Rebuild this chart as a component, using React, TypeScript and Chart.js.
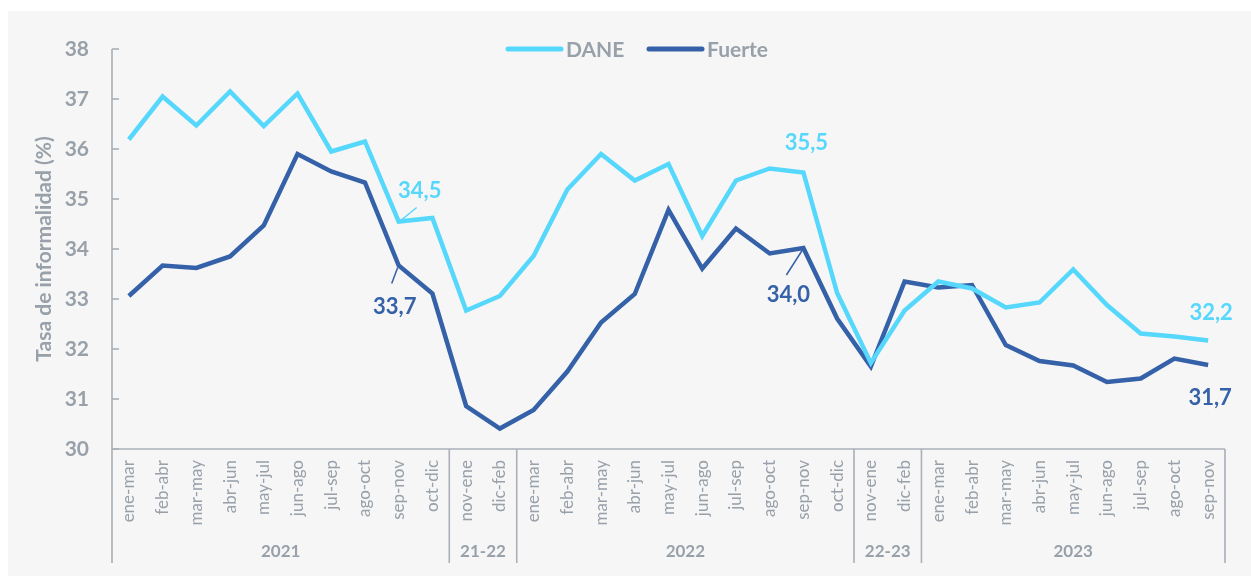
import React, { useEffect, useRef } from "react";
import { Chart, registerables } from "chart.js";

Chart.register(...registerables);

const periods10 = ["ene-mar", "feb-abr", "mar-may", "abr-jun", "may-jul", "jun-ago", "jul-sep", "ago-oct", "sep-nov", "oct-dic"];
const periods2 = ["nov-ene", "dic-feb"];
const periods9 = ["ene-mar", "feb-abr", "mar-may", "abr-jun", "may-jul", "jun-ago", "jul-sep", "ago-oct", "sep-nov"];

const categories = [...periods10, ...periods2, ...periods10, ...periods2, ...periods9];

const groupLabels = ["2021", "21-22", "2022", "22-23", "2023"];
const groupSizes = [10, 2, 10, 2, 9];

const daneValues = [
  36.19, 37.05, 36.47, 37.15, 36.46, 37.11, 35.95, 36.15, 34.55, 34.62,
  32.77, 33.06,
  33.86, 35.19, 35.9, 35.37, 35.7, 34.26, 35.37, 35.61, 35.53, 33.12,
  31.72, 32.77,
  33.35, 33.21, 32.83, 32.93, 33.59, 32.88, 32.31, 32.25, 32.17,
];

const fuerteValues = [
  33.06, 33.67, 33.62, 33.85, 34.47, 35.9, 35.55, 35.33, 33.67, 33.11,
  30.86, 30.41,
  30.78, 31.55, 32.53, 33.1, 34.78, 33.61, 34.41, 33.91, 34.02, 32.61,
  31.65, 33.35,
  33.23, 33.28, 32.08, 31.76, 31.67, 31.34, 31.41, 31.81, 31.68,
];

const yTicks = [30, 31, 32, 33, 34, 35, 36, 37, 38];

const seriesNames = ["DANE", "Fuerte"];
const seriesColors = ["#56d7fc", "#3561a8"];

// highlighted value labels: [datasetIndex, dataIndex, text]
const valueLabels: [number, number, string][] = [
  [0, 8, "34,5"],
  [1, 8, "33,7"],
  [0, 20, "35,5"],
  [1, 20, "34,0"],
  [0, 32, "32,2"],
  [1, 32, "31,7"],
];
// style: offsets of text and leader line relative to the point
const labelStyle: { dx: number; dy: number; leader?: [number, number, number, number] }[] = [
  { dx: 21, dy: -31, leader: [2, -1, 18, -14] },
  { dx: -4, dy: 41, leader: [-1, 2, -7, 18] },
  { dx: 3, dy: -30 },
  { dx: -15, dy: 47, leader: [-1, 2, -17, 27] },
  { dx: 3, dy: -28 },
  { dx: 2, dy: 33 },
];

const GREY = "#98a0a9";
const AXIS = "#a9b0b7";
const FONT = "Lato, 'Noto Sans', sans-serif";

const overlayPlugin = {
  id: "overlay",
  beforeDraw(chart: any) {
    const ctx = chart.ctx;
    ctx.save();
    ctx.fillStyle = "#f6f6f6";
    ctx.fillRect(8, 11, chart.width - 8, chart.height - 11);
    ctx.restore();
  },
  afterDraw(chart: any) {
    const ctx = chart.ctx;
    const xs = chart.scales.x;
    const ys = chart.scales.y;
    const area = chart.chartArea;
    const bottomY = 563;
    ctx.save();
    ctx.strokeStyle = AXIS;
    ctx.lineWidth = 1.6;
    ctx.lineCap = "butt";
    ctx.beginPath();
    ctx.moveTo(area.left, area.top);
    ctx.lineTo(area.left, bottomY);
    ctx.stroke();
    ctx.beginPath();
    ctx.moveTo(area.left, area.bottom);
    ctx.lineTo(area.right, area.bottom);
    ctx.stroke();
    yTicks.forEach((v) => {
      const y = ys.getPixelForValue(v);
      ctx.beginPath();
      ctx.moveTo(area.left, y);
      ctx.lineTo(area.left + 7, y);
      ctx.stroke();
    });
    let start = 0;
    let leftX = area.left;
    groupSizes.forEach((n, gi) => {
      const end = start + n - 1;
      let rightX: number;
      if (end + 1 < categories.length) {
        rightX = (xs.getPixelForTick(end) + xs.getPixelForTick(end + 1)) / 2;
      } else {
        rightX = area.right;
      }
      ctx.beginPath();
      ctx.moveTo(rightX, area.bottom);
      ctx.lineTo(rightX, bottomY);
      ctx.stroke();
      ctx.fillStyle = GREY;
      ctx.font = `bold 17px ${FONT}`;
      ctx.textAlign = "center";
      ctx.textBaseline = "middle";
      ctx.fillText(groupLabels[gi], (leftX + rightX) / 2, 552);
      leftX = rightX;
      start = end + 1;
    });
    ctx.save();
    ctx.translate(44, 249);
    ctx.rotate(-Math.PI / 2);
    ctx.fillStyle = GREY;
    ctx.font = `bold 21px ${FONT}`;
    ctx.textAlign = "center";
    ctx.textBaseline = "middle";
    ctx.fillText("Tasa de informalidad (%)", 0, 0);
    ctx.restore();
    const legendItems = [
      { x0: 508, x1: 561, tx: 566 },
      { x0: 649, x1: 702, tx: 707 },
    ];
    legendItems.forEach((it, i) => {
      ctx.strokeStyle = seriesColors[i];
      ctx.lineWidth = 5;
      ctx.lineCap = "round";
      ctx.beginPath();
      ctx.moveTo(it.x0, 49);
      ctx.lineTo(it.x1, 49);
      ctx.stroke();
      ctx.fillStyle = GREY;
      ctx.font = `bold 21px ${FONT}`;
      ctx.textAlign = "left";
      ctx.textBaseline = "middle";
      ctx.fillText(seriesNames[i], it.tx, 50);
    });
    valueLabels.forEach(([di, idx, text], k) => {
      const meta = chart.getDatasetMeta(di);
      const pt = meta.data[idx];
      const st = labelStyle[k];
      const color = seriesColors[di];
      if (st.leader) {
        const [a, b, c, d] = st.leader;
        ctx.strokeStyle = color;
        ctx.lineWidth = 1.5;
        ctx.lineCap = "butt";
        ctx.beginPath();
        ctx.moveTo(pt.x + a, pt.y + b);
        ctx.lineTo(pt.x + c, pt.y + d);
        ctx.stroke();
      }
      ctx.fillStyle = color;
      ctx.font = `bold 22px ${FONT}`;
      ctx.textAlign = "center";
      ctx.textBaseline = "middle";
      ctx.fillText(text, pt.x + st.dx, pt.y + st.dy);
    });
    ctx.restore();
  },
};

export default function App() {
  const canvasRef = useRef<HTMLCanvasElement>(null);

  useEffect(() => {
    if (!canvasRef.current) return;
    const chart = new Chart(canvasRef.current, {
      type: "line",
      data: {
        labels: categories,
        datasets: seriesNames.map((name, i) => ({
          label: name,
          data: i === 0 ? daneValues : fuerteValues,
          borderColor: seriesColors[i],
          backgroundColor: seriesColors[i],
          borderWidth: 4.5,
          pointRadius: 0,
          tension: 0,
          borderJoinStyle: "miter" as const,
          fill: false,
        })),
      },
      options: {
        animation: false,
        responsive: false,
        devicePixelRatio: 1,
        layout: { padding: { left: 0, top: 49, right: 26, bottom: 0 } },
        plugins: {
          legend: { display: false },
          tooltip: { enabled: false },
          title: { display: false },
        },
        scales: {
          x: {
            type: "category",
            offset: true,
            grid: { display: false, drawTicks: false },
            border: { display: false },
            ticks: {
              autoSkip: false,
              minRotation: 90,
              maxRotation: 90,
              padding: 11,
              color: GREY,
              font: { family: FONT, size: 17 },
            },
            afterFit: (scale: any) => {
              scale.height = 127;
            },
          },
          y: {
            min: 30,
            max: 38,
            grid: { display: false, drawTicks: false },
            border: { display: false },
            ticks: {
              stepSize: 1,
              padding: 23,
              color: GREY,
              font: { family: FONT, size: 21, weight: "bold" },
            },
            afterFit: (scale: any) => {
              scale.width = 112;
            },
          },
        },
      },
      plugins: [overlayPlugin],
    });
    return () => chart.destroy();
  }, []);

  return (
    <canvas
      ref={canvasRef}
      width={1251}
      height={576}
      style={{ position: "fixed", left: 0, top: 0, width: 1251, height: 576 }}
    />
  );
}
